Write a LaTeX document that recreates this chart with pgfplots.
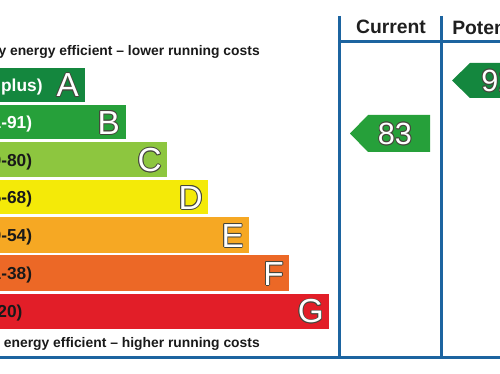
\documentclass[border=0pt]{standalone}
\usepackage{pgfplots}
\pgfplotsset{compat=1.18}
\usepackage{fontspec}
\setmainfont{Liberation Sans}
\definecolor{cA}{RGB}{20,135,62}
\definecolor{cB}{RGB}{38,160,58}
\definecolor{cC}{RGB}{141,198,63}
\definecolor{cD}{RGB}{244,234,8}
\definecolor{cE}{RGB}{246,168,35}
\definecolor{cF}{RGB}{236,104,38}
\definecolor{cG}{RGB}{226,30,40}
\definecolor{cL}{RGB}{28,100,160}
\definecolor{cO}{RGB}{70,70,60}
\tikzset{ol/.style={inner sep=0pt,text depth=0pt}}
% #1 x, #2 y, #3 anchor, #4 size, #5 text
\newcommand{\outl}[5]{%
  \node[ol,text height={0.716*#4pt},anchor=#3,cO,xshift=0.7pt] at (axis cs:#1,#2) {\fontsize{#4}{#4}\selectfont #5};
  \node[ol,text height={0.716*#4pt},anchor=#3,cO,xshift=-0.7pt] at (axis cs:#1,#2) {\fontsize{#4}{#4}\selectfont #5};
  \node[ol,text height={0.716*#4pt},anchor=#3,cO,yshift=0.7pt] at (axis cs:#1,#2) {\fontsize{#4}{#4}\selectfont #5};
  \node[ol,text height={0.716*#4pt},anchor=#3,cO,yshift=-0.7pt] at (axis cs:#1,#2) {\fontsize{#4}{#4}\selectfont #5};
  \node[ol,text height={0.716*#4pt},anchor=#3,cO,xshift=0.5pt,yshift=0.5pt] at (axis cs:#1,#2) {\fontsize{#4}{#4}\selectfont #5};
  \node[ol,text height={0.716*#4pt},anchor=#3,cO,xshift=-0.5pt,yshift=0.5pt] at (axis cs:#1,#2) {\fontsize{#4}{#4}\selectfont #5};
  \node[ol,text height={0.716*#4pt},anchor=#3,cO,xshift=0.5pt,yshift=-0.5pt] at (axis cs:#1,#2) {\fontsize{#4}{#4}\selectfont #5};
  \node[ol,text height={0.716*#4pt},anchor=#3,cO,xshift=-0.5pt,yshift=-0.5pt] at (axis cs:#1,#2) {\fontsize{#4}{#4}\selectfont #5};
  \node[ol,text height={0.716*#4pt},anchor=#3,white] at (axis cs:#1,#2) {\fontsize{#4}{#4}\selectfont #5};
}
% x, y, colour, text
\newcommand{\blab}[4]{%
  \node[ol,text height={0.716*13pt},anchor=west,#3] at (axis cs:#1,#2) {\fontsize{13}{13}\selectfont\bfseries #4};
}
\begin{document}
\begin{tikzpicture}
\useasboundingbox (0,0) rectangle (375pt,280.5pt);
\clip (0,0) rectangle (375pt,280.5pt);
\begin{axis}[
  scale only axis, width=375pt, height=280.5pt,
  xmin=0, xmax=500, ymin=0, ymax=374, y dir=reverse,
  hide axis, clip=false,
]
% bands
\addplot[fill=cA, draw=none] coordinates {(-5,68) (85,68) (85,102) (-5,102)} --cycle;
\addplot[fill=cB, draw=none] coordinates {(-5,105) (126,105) (126,139.5) (-5,139.5)} --cycle;
\addplot[fill=cC, draw=none] coordinates {(-5,142.5) (167,142.5) (167,177) (-5,177)} --cycle;
\addplot[fill=cD, draw=none] coordinates {(-5,180) (208,180) (208,214.5) (-5,214.5)} --cycle;
\addplot[fill=cE, draw=none] coordinates {(-5,217.5) (249,217.5) (249,253) (-5,253)} --cycle;
\addplot[fill=cF, draw=none] coordinates {(-5,255.5) (289,255.5) (289,291) (-5,291)} --cycle;
\addplot[fill=cG, draw=none] coordinates {(-5,293.5) (329,293.5) (329,328.5) (-5,328.5)} --cycle;
% arrows
\addplot[fill=cB, draw=none] coordinates {(350,133.5) (368,115) (430,115) (430,152) (368,152)} --cycle;
\addplot[fill=cA, draw=none] coordinates {(452,80.5) (470,63) (510,63) (510,98) (470,98)} --cycle;
% frame lines
\addplot[cL, line width=2.25pt] coordinates {(339,16) (339,357)};
\addplot[cL, line width=2.25pt] coordinates {(441,16) (441,357)};
\addplot[cL, line width=2.25pt] coordinates {(339,42) (510,42)};
\addplot[cL, line width=2.25pt] coordinates {(-10,357) (510,357)};
% band labels
\blab{-29}{85}{white}{(92 plus)}
\blab{-24}{122.3}{white}{(81-91)}
\blab{-24}{159.8}{black!90}{(69-80)}
\blab{-24}{197.3}{black!90}{(55-68)}
\blab{-24}{235.3}{black!90}{(39-54)}
\blab{-24}{273.3}{black!90}{(21-38)}
\blab{-24}{311}{black!90}{(1-20)}
% letters
\outl{79}{85}{east}{25}{A}
\outl{120}{122.3}{east}{25}{B}
\outl{162}{159.8}{east}{25}{C}
\outl{203}{197.3}{east}{25}{D}
\outl{244}{235.3}{east}{25}{E}
\outl{284}{273.3}{east}{25}{F}
\outl{324}{311}{east}{25}{G}
% arrow values
\outl{395}{133.5}{center}{23}{83}
\outl{481}{80.5}{west}{23}{92}
% texts
\node[ol,anchor=east,font=\fontsize{10.4}{10.4}\selectfont\bfseries,black!90] at (axis cs:260,50) {Very energy efficient -- lower running costs};
\node[ol,anchor=east,font=\fontsize{10.4}{10.4}\selectfont\bfseries,black!90] at (axis cs:260,342) {Not energy efficient -- higher running costs};
\node[ol,anchor=center,font=\fontsize{14.5}{14.5}\selectfont\bfseries,black!88] at (axis cs:391,27) {Current};
\node[ol,anchor=west,font=\fontsize{14.5}{14.5}\selectfont\bfseries,black!88] at (axis cs:452,27) {Potential};
\end{axis}
\end{tikzpicture}
\end{document}
